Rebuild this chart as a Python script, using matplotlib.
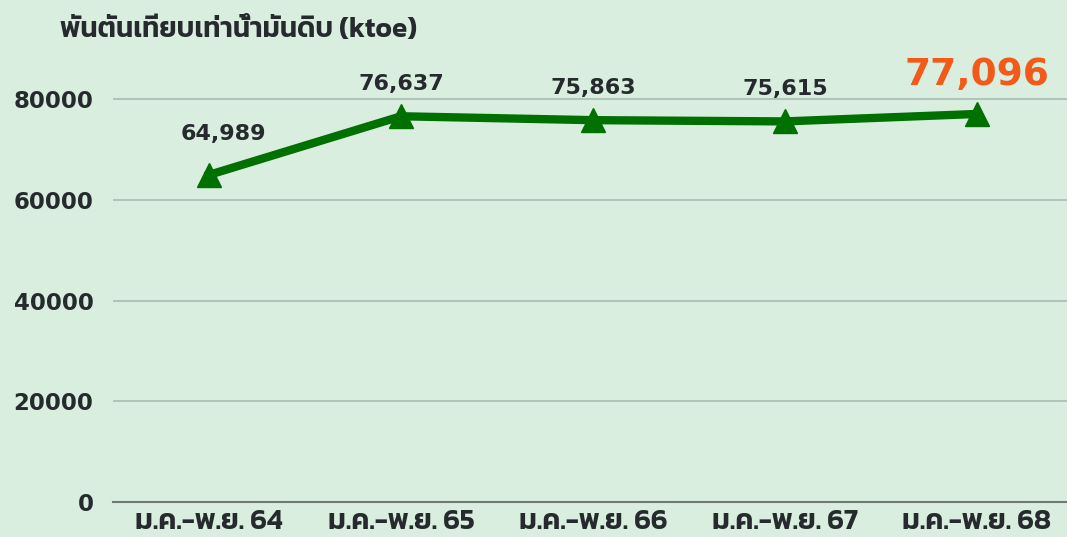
import matplotlib
matplotlib.use("Agg")
import matplotlib.pyplot as plt
from matplotlib import font_manager
from matplotlib.ft2font import FT2Font

# ข้อมูล
categories = ["ม.ค.-พ.ย. 64", "ม.ค.-พ.ย. 65", "ม.ค.-พ.ย. 66", "ม.ค.-พ.ย. 67", "ม.ค.-พ.ย. 68"]
values = [64989, 76637, 75863, 75615, 77096]
yticks = [0, 20000, 40000, 60000, 80000]
unit_label = "พันตันเทียบเท่าน้ำมันดิบ (ktoe)"

bg = "#d9eedf"
green = "#007000"
orange = "#f25a1a"
dark = "#262a2e"


def find_thai_families():
    # หาฟอนต์ที่มีอักษรไทย เอาตัวที่มีแบบหนาขึ้นก่อน
    weights = {}
    for f in font_manager.fontManager.ttflist:
        try:
            cmap = FT2Font(f.fname).get_charmap()
        except Exception:
            continue
        if ord("ม") in cmap and ord("น") in cmap:
            w = f.weight if isinstance(f.weight, int) else 400
            weights[f.name] = max(weights.get(f.name, 0), w)
    return sorted(weights, key=lambda n: -weights[n])


thai = find_thai_families()
plt.rcParams["font.family"] = ["DejaVu Sans"] + thai
thai_fam = thai + ["DejaVu Sans"]

fig = plt.figure(figsize=(10.67, 5.37), dpi=100, facecolor=bg)
ax = fig.add_axes([113 / 1067, 35 / 537, 960 / 1067, 453 / 537])
ax.set_facecolor(bg)

x = list(range(len(categories)))
ax.plot(x, values, color=green, linewidth=6, marker="^", markersize=17,
        markerfacecolor=green, markeredgecolor=green, clip_on=False, zorder=3)

ax.set_xlim(-0.5, len(categories) - 0.5)
ax.set_ylim(0, 90000)
ax.set_yticks(yticks)
ax.set_yticklabels([str(v) for v in yticks], fontsize=16.5, fontweight="bold", color=dark)
ax.set_xticks(x)
ax.set_xticklabels(categories, fontsize=20.5, fontweight=600, color=dark, family=thai_fam)
ax.tick_params(axis="both", length=0)
ax.tick_params(axis="y", pad=14)
ax.tick_params(axis="x", pad=5)

ax.grid(axis="y", color="#a9bcb0", linewidth=1.2)
ax.set_axisbelow(True)
for side in ["top", "right", "left"]:
    ax.spines[side].set_visible(False)
ax.spines["bottom"].set_color("#6f7a73")
ax.spines["bottom"].set_linewidth(1.5)

# ป้ายค่า
for i, v in enumerate(values):
    if i == len(values) - 1:
        ax.annotate(f"{v:,}", (i, v), xytext=(0, 15), textcoords="offset points",
                    ha="center", va="bottom", fontsize=27, fontweight="bold", color=orange)
    else:
        dy = 22 if i == 0 else 16
        ax.annotate(f"{v:,}", (i, v), xytext=(10 if i == 0 else 0, dy),
                    textcoords="offset points", ha="center", va="bottom",
                    fontsize=16, fontweight="bold", color=dark)

fig.text(60 / 1067, 1 - 30 / 537, unit_label, fontsize=20, fontweight=600,
         color=dark, ha="left", va="center", family=thai_fam)

fig.savefig("out.png", dpi=100, facecolor=bg)
